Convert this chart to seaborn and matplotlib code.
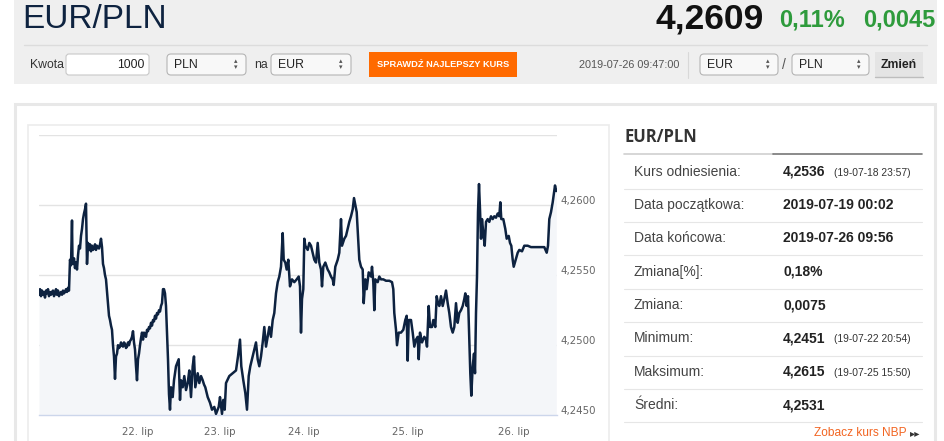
import pandas as pd
import seaborn as sns
import matplotlib.pyplot as plt
from matplotlib.patches import Rectangle, FancyBboxPatch
from matplotlib.transforms import ScaledTranslation

# kurs EUR/PLN (os x = kolejne notowania, bez weekendu)
t = [0, 1, 2, 3, 4, 5, 6, 7, 8, 9, 10, 11, 12, 13, 14, 15, 16, 17, 18, 19, 20,
     21, 22, 23, 24, 25, 26, 27, 28, 29, 30, 31, 32, 33, 33.5, 34, 35, 36, 37, 38,
     39, 40, 41, 42, 43, 44, 45, 46, 47, 48, 49, 50, 51, 52, 53, 54, 55, 56, 57, 58,
     59, 60, 61, 62, 63, 64, 65, 66, 67, 68, 69, 70, 71, 72, 73, 74, 75, 76, 77, 78,
     79, 80, 81, 82, 83, 84, 85, 86, 87, 88, 89, 90, 91, 92, 93, 94, 95, 96, 97, 98,
     99, 100, 101, 102, 103, 104, 105, 106, 107, 108, 109, 110, 111, 112, 113, 114,
     115, 116, 117, 118, 119, 120, 121, 122, 123, 124, 125, 126, 127, 128, 129, 130,
     131, 132, 133.7, 135, 137, 139.7, 141, 142, 143.7, 145.3, 147, 148.7, 150.3, 152,
     153.7, 155, 156.3, 158.7, 160.3, 162, 163.7, 165, 166.3, 168.7, 171, 173, 175.3,
     177, 179.7, 181, 183, 184.3, 185.7, 187, 190.3, 193.7, 197, 199, 201, 202.3,
     204.3, 206.3, 208, 209.7, 211.3, 213, 215.3, 217, 218.7, 220.3, 222, 223.7,
     225.3, 227, 228.7, 230.3, 232, 233.7, 235.3, 237, 238.7, 240.3, 242, 243.7,
     244.7, 246.3, 247.7, 249.3, 251, 253, 255.3, 257.7, 259.7, 261, 262, 263, 264.3,
     265.3, 266.3, 268.7, 270.3, 272, 273.7, 275.3, 277, 278.7, 280.3, 282, 283,
     284.3, 286.3, 288.7, 290.3, 292, 293.7, 294.7, 296.3, 298.7, 300.3, 302, 303,
     305.3, 307, 308.7, 310.3, 312, 313.7, 315, 316.3, 317.7, 319, 320.3, 322, 323.7,
     324.7, 326.3, 327.7, 329.7, 332, 333, 334.3, 335.3, 336.3, 338.7, 340.3, 342,
     344.3, 347, 350.3, 353, 354.3, 355.3, 357, 358, 359.7, 362, 364.3, 366.3, 367.7,
     368.7, 369.7, 372, 373.7, 375.3, 377, 378.7, 379.7, 381, 383, 385.3, 387, 388,
     389.7, 391, 393, 394.3, 396.3, 397.7, 399, 400.3, 402, 403.7, 405.3, 407, 408.7,
     410.3, 412, 413.7, 415.3, 417, 418.7, 420.3, 422, 423.7, 425.3, 426.3, 427.7,
     429, 430.3, 431.3, 432.3, 433.7, 435, 436, 437, 438, 439, 440, 441, 442, 443,
     444.3, 445.7, 447, 448.7, 450.3, 452, 453.7, 455.3, 457, 458.7, 460.3, 461.3,
     462.3, 464.3, 466.3, 467.7, 469.7, 471, 472.3, 473.7, 474.7, 476.3, 478.7, 480.3,
     483, 485.3, 488.7, 492, 495.3, 498.7, 502, 505.3, 507.7, 509, 510.3, 512, 513.7,
     515, 516, 517.3]
kurs = [4.2536, 4.2540, 4.2535, 4.2539, 4.2536, 4.2538, 4.2534, 4.2539, 4.2537, 4.2540,
        4.2535, 4.2538, 4.2536, 4.2538, 4.2539, 4.2535, 4.2537, 4.2540, 4.2536, 4.2539,
        4.2535, 4.2537, 4.2538, 4.2536, 4.2539, 4.2537, 4.2538, 4.2540, 4.2538, 4.2541,
        4.2539, 4.2561, 4.2557, 4.2589, 4.2560, 4.2558, 4.2562, 4.2555, 4.2559, 4.2554,
        4.2564, 4.2571, 4.2569, 4.2578, 4.2583, 4.2590, 4.2594, 4.2597, 4.2601, 4.2558,
        4.2573, 4.2568, 4.2572, 4.2567, 4.2571, 4.2568, 4.2569, 4.2572, 4.2568, 4.2571,
        4.2570, 4.2569, 4.2572, 4.2576, 4.2570, 4.2558, 4.2555, 4.2550, 4.2547, 4.2538,
        4.2530, 4.2521, 4.2518, 4.2514, 4.2511, 4.2500, 4.2492, 4.2476, 4.2492, 4.2494,
        4.2500, 4.2498, 4.2499, 4.2502, 4.2500, 4.2499, 4.2502, 4.2501, 4.2498, 4.2499,
        4.2502, 4.2500, 4.2503, 4.2504, 4.2506, 4.2510, 4.2502, 4.2497, 4.2485, 4.2475,
        4.2490, 4.2494, 4.2500, 4.2505, 4.2509, 4.2504, 4.2509, 4.2508, 4.2506, 4.2511,
        4.2510, 4.2513, 4.2512, 4.2516, 4.2514, 4.2518, 4.2517, 4.2521, 4.2519, 4.2523,
        4.2522, 4.2525, 4.2524, 4.2528, 4.2530, 4.2540, 4.2540, 4.2537, 4.2528, 4.2510,
        4.2490, 4.2465, 4.2454, 4.2470, 4.2463, 4.2475, 4.2485, 4.2490, 4.2461, 4.2475,
        4.2470, 4.2478, 4.2468, 4.2473, 4.2482, 4.2463, 4.2485, 4.2492, 4.2470, 4.2480,
        4.2473, 4.2478, 4.2475, 4.2472, 4.2470, 4.2463, 4.2459, 4.2454, 4.2456, 4.2451,
        4.2456, 4.2463, 4.2451, 4.2461, 4.2454, 4.2473, 4.2478, 4.2480, 4.2482, 4.2492,
        4.2504, 4.2485, 4.2475, 4.2466, 4.2454, 4.2478, 4.2485, 4.2490, 4.2497, 4.2502,
        4.2490, 4.2485, 4.2492, 4.2502, 4.2513, 4.2499, 4.2506, 4.2513, 4.2506, 4.2518,
        4.2523, 4.2537, 4.2545, 4.2549, 4.2556, 4.2580, 4.2561, 4.2559, 4.2554, 4.2561,
        4.2542, 4.2547, 4.2545, 4.2547, 4.2549, 4.2542, 4.2509, 4.2533, 4.2540, 4.2576,
        4.2571, 4.2568, 4.2573, 4.2571, 4.2566, 4.2561, 4.2559, 4.2573, 4.2559, 4.2554,
        4.2542, 4.2556, 4.2559, 4.2554, 4.2552, 4.2549, 4.2547, 4.2543, 4.2556, 4.2561,
        4.2566, 4.2590, 4.2571, 4.2576, 4.2578, 4.2583, 4.2588, 4.2592, 4.2597, 4.2605,
        4.2600, 4.2595, 4.2578, 4.2561, 4.2556, 4.2554, 4.2530, 4.2547, 4.2540, 4.2552,
        4.2549, 4.2556, 4.2545, 4.2525, 4.2547, 4.2545, 4.2549, 4.2547, 4.2547, 4.2546,
        4.2546, 4.2545, 4.2540, 4.2523, 4.2511, 4.2500, 4.2509, 4.2509, 4.2511, 4.2518,
        4.2521, 4.2489, 4.2518, 4.2518, 4.2509, 4.2499, 4.2504, 4.2506, 4.2490, 4.2509,
        4.2502, 4.2506, 4.2504, 4.2499, 4.2528, 4.2513, 4.2513, 4.2518, 4.2513, 4.2535,
        4.2530, 4.2528, 4.2535, 4.2528, 4.2533, 4.2539, 4.2530, 4.2523, 4.2513, 4.2509,
        4.2513, 4.2530, 4.2516, 4.2523, 4.2525, 4.2528, 4.2533, 4.2537, 4.2528, 4.2535,
        4.2504, 4.2480, 4.2464, 4.2485, 4.2494, 4.2480, 4.2523, 4.2549, 4.2595, 4.2615,
        4.2597, 4.2576, 4.2590, 4.2580, 4.2571, 4.2588, 4.2590, 4.2588, 4.2592, 4.2590,
        4.2592, 4.2591, 4.2594, 4.2592, 4.2602, 4.2590, 4.2590, 4.2583, 4.2576, 4.2578,
        4.2573, 4.2571, 4.2561, 4.2556, 4.2560, 4.2566, 4.2568, 4.2567, 4.2571, 4.2571,
        4.2570, 4.2570, 4.2570, 4.2570, 4.2570, 4.2566, 4.2571, 4.2590, 4.2595, 4.2602,
        4.2609, 4.2614, 4.2610]

dni_poz = [98.3, 180.3, 264.7, 368.3, 474.3]
dni = ["22. lip", "23. lip", "24. lip", "25. lip", "26. lip"]
y_ticks = [4.2450, 4.2500, 4.2550, 4.2600, 4.2650]
y_labels = ["4,2450", "4,2500", "4,2550", "4,2600", ""]

tab_etykiety = ["Kurs odniesienia:", "Data początkowa:", "Data końcowa:", "Zmiana[%]:",
                "Zmiana:", "Minimum:", "Maksimum:", "Średni:"]
tab_wartosci = ["4,2536", "2019-07-19 00:02", "2019-07-26 09:56", "0,18%",
                "0,0075", "4,2451", "4,2615", "4,2531"]
tab_daty = ["(19-07-18 23:57)", "", "", "", "", "(19-07-22 20:54)", "(19-07-25 15:50)", ""]

sns.set_style("white")
plt.rcParams["font.family"] = ["Liberation Sans", "DejaVu Sans"]

fig = plt.figure(figsize=(9.45, 4.41), dpi=100)

# strona w pikselach
page = fig.add_axes([0, 0, 1, 1])
page.set_xlim(0, 945)
page.set_ylim(441, 0)
page.axis("off")


def rect(x0, y0, x1, y1, fc, ec="none", lw=0, r=0, z=1):
    if r:
        p = FancyBboxPatch((x0, y0), x1 - x0, y1 - y0, boxstyle=f"round,pad=0,rounding_size={r}",
                           fc=fc, ec=ec, lw=lw, zorder=z)
    else:
        p = Rectangle((x0, y0), x1 - x0, y1 - y0, fc=fc, ec=ec, lw=lw, zorder=z)
    page.add_patch(p)


def select(x0, x1, label):
    rect(x0, 54, x1, 75, "#f8f8f8", "#b5b5b5", 0.8, r=4)
    page.text(x0 + 7, 64.5, label, fontsize=8.8, color="#222222", va="center")
    page.text(x1 - 10, 61.5, "▴", fontsize=5, color="#555555", va="center", ha="center",
              family="DejaVu Sans")
    page.text(x1 - 10, 67.5, "▾", fontsize=5, color="#555555", va="center", ha="center",
              family="DejaVu Sans")


# naglowek
rect(14, -2, 937, 84, "#efefef")
page.plot([24, 927], [44.5, 44.5], color="#dcdcdc", lw=1)
page.text(22, 19, "EUR/PLN", fontsize=24, color="#0e2340", va="center")
page.text(764, 19, "4,2609", fontsize=25.5, weight="bold", color="#111111", va="center", ha="right")
page.text(779, 20, "0,11%", fontsize=17, weight="bold", color="#2e9b3c", va="center")
page.text(935, 20, "0,0045", fontsize=17, weight="bold", color="#2e9b3c", va="center", ha="right")

page.text(30, 64.5, "Kwota", fontsize=8.8, color="#333333", va="center")
rect(66, 54, 149, 75, "white", "#c8c8c8", 0.8, r=3)
page.text(145, 64.5, "1000", fontsize=8.8, color="#222222", va="center", ha="right")
select(167, 246, "PLN")
page.text(254, 64.5, "na", fontsize=8.8, color="#333333", va="center")
select(271, 351, "EUR")
rect(369, 52, 517, 77, "#ff6a00")
page.text(443, 64.5, "SPRAWDŹ NAJLEPSZY KURS", fontsize=6.7, weight="bold", color="white",
          va="center", ha="center")
page.text(629, 65, "2019-07-26 09:47:00", fontsize=7.8, color="#555555", va="center", ha="center")
page.plot([688, 688], [52, 78], color="#d8d8d8", lw=0.8)
select(700, 778, "EUR")
page.text(784, 65, "/", fontsize=10, color="#555555", va="center", ha="center")
select(792, 869, "PLN")
rect(875, 52, 923, 77, "#e4e4e4")
page.plot([875, 923], [77, 77], color="#bdbdbd", lw=1)
page.text(899, 64.5, "Zmień", fontsize=8.8, weight="bold", color="#222222", va="center",
          ha="center")

# panel z wykresem
rect(15, 104, 935, 460, "white", "#e8e8e8", 2.2)
rect(28, 125, 609, 460, "white", "#ececec", 1.2)

# tabela po prawej
page.text(624, 137, "EUR/PLN", fontsize=12, weight="bold", color="#333333", va="center",
          family=["Open Sans", "Liberation Sans"])
page.plot([624, 773], [154, 154], color="#cfcfcf", lw=1.2)
page.plot([773, 922], [154, 154], color="#777777", lw=1.2)
for i, (lab, val, dat) in enumerate(zip(tab_etykiety, tab_wartosci, tab_daty)):
    yc = 171.5 + i * 33.4
    page.text(634, yc, lab, fontsize=10, color="#444444", va="center")
    page.text(783, yc, val, fontsize=10, weight="bold", color="#222222", va="center")
    if dat:
        page.text(834, yc + 1, dat, fontsize=7.4, color="#333333", va="center")
    page.plot([624, 922], [yc + 17, yc + 17], color="#e6e6e6", lw=0.8)
page.text(907, 433, "Zobacz kurs NBP", fontsize=8.6, color="#f26522", va="center", ha="right")
page.text(910, 433.5, "▸▸", fontsize=7.5, color="#333333", va="center", family="DejaVu Sans")

# wykres kursu
ax = fig.add_axes([39 / 945, 1 - 415.3 / 441, (556.7 - 39) / 945, (415.3 - 135) / 441])
ax.set_facecolor("none")
df = pd.DataFrame({"t": t, "kurs": kurs})
ax.fill_between(df["t"], df["kurs"], 4.2450, color="#f4f6f9", lw=0, zorder=1)
sns.lineplot(data=df, x="t", y="kurs", ax=ax, color="#0d2240", lw=1.8,
             estimator=None, sort=False, zorder=3)
ax.set_xlim(0, 517.7)
ax.set_ylim(4.2450, 4.2650)
ax.set_yticks(y_ticks)
ax.set_yticklabels(y_labels)
ax.yaxis.tick_right()
ax.set_xticks(dni_poz)
ax.set_xticklabels(dni)
ax.set_xlabel("")
ax.set_ylabel("")
ax.grid(axis="y", color="#e3e3e3", lw=1)
ax.grid(axis="x", visible=False)
for s in ["top", "left", "right"]:
    ax.spines[s].set_visible(False)
ax.spines["bottom"].set_color("#ccd6eb")
ax.spines["bottom"].set_linewidth(1)
ax.tick_params(axis="y", length=0, pad=2.5, labelsize=7.4, labelcolor="#666666")
ax.tick_params(axis="x", length=7, width=0.8, color="#ccd6eb", pad=1.5, labelsize=7.4,
               labelcolor="#666666")
for lbl in ax.get_yticklabels():
    lbl.set_fontfamily("DejaVu Sans")
    lbl.set_transform(lbl.get_transform() + ScaledTranslation(0, 0.05, fig.dpi_scale_trans))
for lbl in ax.get_xticklabels():
    lbl.set_fontfamily("DejaVu Sans")

fig.savefig("out.png", dpi=100)
